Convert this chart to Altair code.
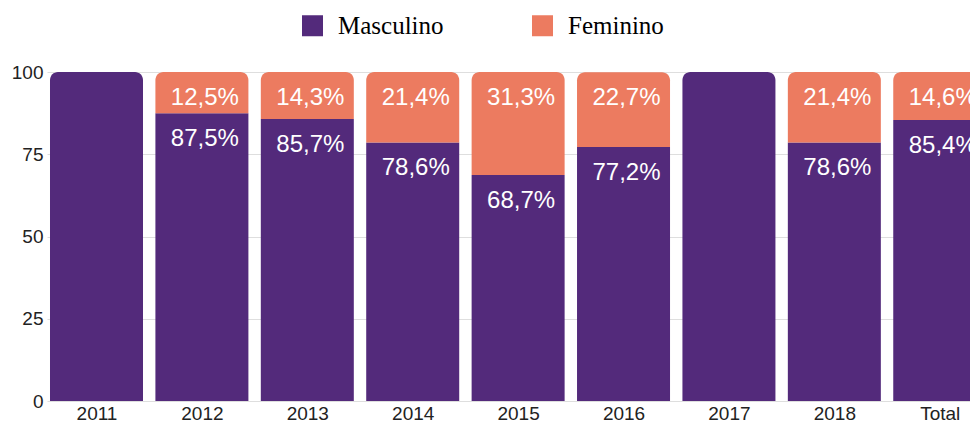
import altair as alt
import pandas as pd
import json

years = ["2011", "2012", "2013", "2014", "2015", "2016", "2017", "2018", "Total"]
masculino = [100, 87.5, 85.7, 78.6, 68.7, 77.2, 100, 78.6, 85.4]
feminino = [0, 12.5, 14.3, 21.4, 31.3, 22.7, 0, 21.4, 14.6]
series = ["Masculino", "Feminino"]
colors = ["#532A7B", "#EC7B60"]

rows = []
for i, yr in enumerate(years):
    rows.append({"idx": i, "ano": yr, "sexo": "Masculino", "valor": masculino[i]})
    rows.append({"idx": i, "ano": yr, "sexo": "Feminino", "valor": feminino[i]})
df = pd.DataFrame(rows)

label_expr = json.dumps(years) + "[datum.value]"

base = (
    alt.Chart(df)
    .transform_filter("datum.valor > 0")
    .transform_calculate(ord="datum.sexo == 'Masculino' ? 0 : 1")
    .transform_stack(stack="valor", groupby=["idx"], as_=["y0", "y1"],
                     sort=[alt.SortField("ord", order="ascending")])
    .transform_joinaggregate(top="max(y1)", groupby=["idx"])
    .transform_calculate(is_top="datum.y1 >= datum.top")
)

x_enc = alt.X(
    "idx:Q",
    scale=alt.Scale(domain=[-0.4696, 8.287], nice=False, zero=False, padding=0),
    axis=alt.Axis(values=list(range(len(years))), labelExpr=label_expr, title=None,
                  ticks=False, domain=False, grid=False, labelFontSize=19,
                  labelFont="Liberation Sans", labelColor="#222", labelPadding=3),
)
y_enc = alt.Y(
    "y1:Q",
    scale=alt.Scale(domain=[0, 100], nice=False, padding=0),
    axis=alt.Axis(values=[0, 25, 50, 75, 100], title=None, ticks=False, domain=False,
                  labelFontSize=19, labelFont="Liberation Sans", labelColor="#222",
                  labelPadding=4, gridColor="#dedede"),
)
color_enc = alt.Color(
    "sexo:N",
    scale=alt.Scale(domain=series, range=colors),
    legend=alt.Legend(
        title=None, orient="none", legendX=253, legendY=-59, direction="horizontal",
        symbolType="square", symbolSize=441,
        symbolStrokeWidth=0, symbolOpacity=1, labelFont="Liberation Serif",
        labelFontSize=25, labelColor="#000", labelOffset=13, columnPadding=86,
        padding=0,
    ),
)

top_bars = base.transform_filter("datum.is_top").mark_bar(
    size=93, clip=True, cornerRadiusTopLeft=8, cornerRadiusTopRight=8
).encode(x=x_enc, y=y_enc, y2="y0:Q", color=color_enc)

other_bars = base.transform_filter("!datum.is_top").mark_bar(
    size=93, clip=True
).encode(x=x_enc, y=y_enc, y2="y0:Q", color=color_enc)

labels = base.transform_filter("datum.valor < 100").transform_calculate(
    label="replace(format(datum.valor, '.1f'), '.', ',') + '%'"
).mark_text(
    color="white", fontSize=24, font="Liberation Sans", baseline="middle",
    align="center", dx=3, dy=26, clip=True
).encode(x=x_enc, y=alt.Y("y1:Q"), text="label:N")

chart = (
    alt.layer(other_bars, top_bars, labels)
    .properties(
        width=923, height=329,
        autosize=alt.AutoSizeParams(type="none"),
        padding={"left": 39, "top": 64, "right": 0, "bottom": 20},
    )
    .configure_view(stroke=None)
)

chart.save("out.html", embed_options={"renderer": "svg", "actions": False})
